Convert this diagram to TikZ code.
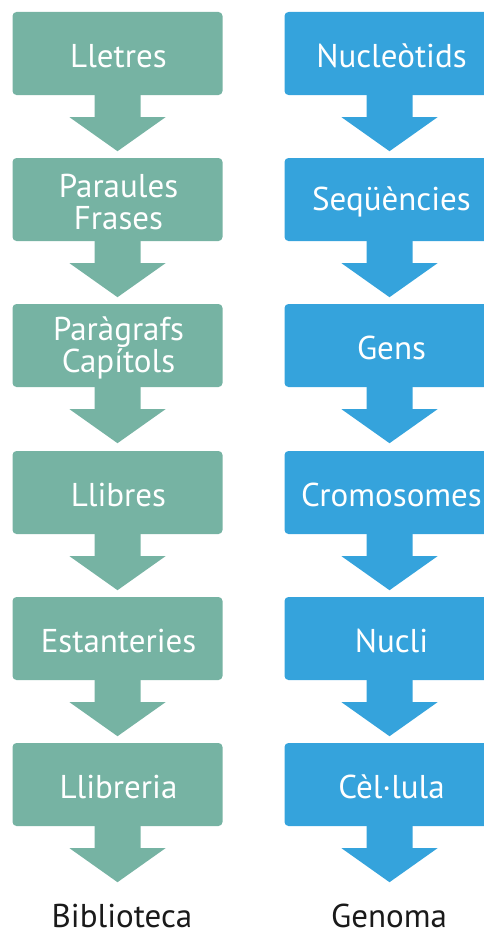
\documentclass[tikz,border=0pt]{standalone}
\usepackage{fontspec}
\setmainfont{PT Sans}
\usetikzlibrary{calc}
\definecolor{libg}{HTML}{76B3A3}
\definecolor{genb}{HTML}{35A3DC}
\definecolor{labk}{HTML}{1A1A1A}
\newcommand\blockarr[2]{%
  \fill[#1] ($(#2.south)+(-23,-1)$) -- ++(0,23) -- ++(-25,0) -- ++(48,34)
     -- ++(48,-34) -- ++(-25,0) -- ++(0,-23) -- cycle;}
\begin{document}
\begin{tikzpicture}[x=1pt,y=-1pt,
  box/.style={minimum width=210pt,minimum height=83pt,rounded corners=4pt,
    inner sep=0pt},
  lib/.style={box,fill=libg},
  gen/.style={box,fill=genb},
  boxtext/.style={inner sep=0pt,text=white,font=\fontsize{33}{32}\selectfont,align=center},
  foot/.style={text=labk,font=\fontsize{33}{33}\selectfont,inner sep=0pt,anchor=base}]
\useasboundingbox (0,0) rectangle (484,934);
\clip (0,0) rectangle (484,934);
\foreach \i/\y/\lt/\gt in {1/53.5/Lletres/Nucleòtids,
    2/199.5/{Paraules\\Frases}/Seqüències,
    3/345.5/{Paràgrafs\\Capítols}/Gens,
    4/492.5/Llibres/Cromosomes,
    5/638.5/Estanteries/Nucli,
    6/784.5/Llibreria/Cèl·lula}{
  \node[lib] (l\i) at (117.5,\y) {};
  \node[gen] (g\i) at (389.5,\y) {};
  \node[boxtext] (lt\i) at ($(l\i)+(1,2.5)$) {\lt};
  \node[boxtext] (gt\i) at ($(g\i)+(2,2.5)$) {\gt};
  \blockarr{libg}{l\i}
  \blockarr{genb}{g\i}
}
\node[foot] (bib) at (122,927) {Biblioteca};
\node[foot] (gen) at (389,927) {Genoma};
\end{tikzpicture}
\end{document}
